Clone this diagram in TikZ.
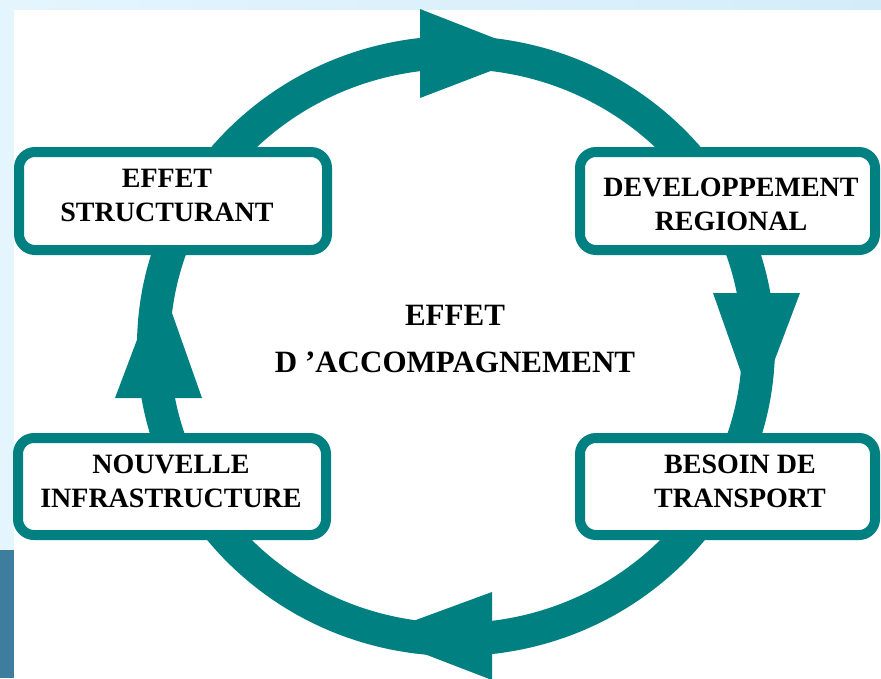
\documentclass[tikz,border=0pt]{standalone}
\usepackage{fontspec}
\setmainfont{Liberation Serif}
\definecolor{ringteal}{RGB}{0,128,128}
\definecolor{bgblue}{RGB}{228,245,253}
\definecolor{bgblueb}{RGB}{212,236,250}
\definecolor{stripblue}{RGB}{62,125,158}
\begin{document}
\begin{tikzpicture}[x=1pt,y=-1pt,
  box/.style={draw=ringteal, line width=10pt, fill=white, rounded corners=16pt, inner sep=0pt},
  lbl/.style={font=\fontsize{28}{34}\selectfont\bfseries, align=center, inner sep=0pt, text=black},
  midlbl/.style={font=\fontsize{31}{47}\selectfont\bfseries, align=center, inner sep=0pt, text=black},
  ring/.style={draw=ringteal, line width=33pt},
  head/.style={fill=ringteal}
]
\useasboundingbox (0,0) rectangle (881,678);
\clip (0,0) rectangle (881,678);
% background
\fill[bgblue] (0,0) rectangle (881,678);
\shade[left color=bgblue, right color=bgblueb] (0,0) rectangle (881,10);
\fill[stripblue] (0,550) rectangle (14,678);
\fill[white] (14,10) rectangle (881,678);
% ring
\coordinate (ringc) at (456,346);
\draw[ring] (ringc) ellipse [x radius=302.5pt, y radius=293.5pt];
% arrowheads
\fill[head] (420,9) -- (420,98) -- (535,54) -- cycle;
\fill[head] (713,293) -- (800,293) -- (755,412) -- cycle;
\fill[head] (492,592) -- (492,680) -- (375,635) -- cycle;
\fill[head] (115,398) -- (202,398) -- (160,279) -- cycle;
% boxes
\node[box, minimum width=308pt, minimum height=98pt] (b1) at (173,201) {};
\node[box, minimum width=295pt, minimum height=98pt] (b2) at (727.5,201) {};
\node[box, minimum width=308pt, minimum height=97pt] (b3) at (172,486.5) {};
\node[box, minimum width=295pt, minimum height=97pt] (b4) at (727.5,486.5) {};
% labels
\node[lbl] (t1) at (167,195) {EFFET\\STRUCTURANT};
\node[lbl] (t2) at (731,204) {DEVELOPPEMENT\\REGIONAL};
\node[lbl] (t3) at (171,481) {NOUVELLE\\INFRASTRUCTURE};
\node[lbl] (t4) at (740,481) {BESOIN DE\\TRANSPORT};
\node[midlbl] (tc) at (455,339) {EFFET\\D ’ACCOMPAGNEMENT};
\end{tikzpicture}
\end{document}
